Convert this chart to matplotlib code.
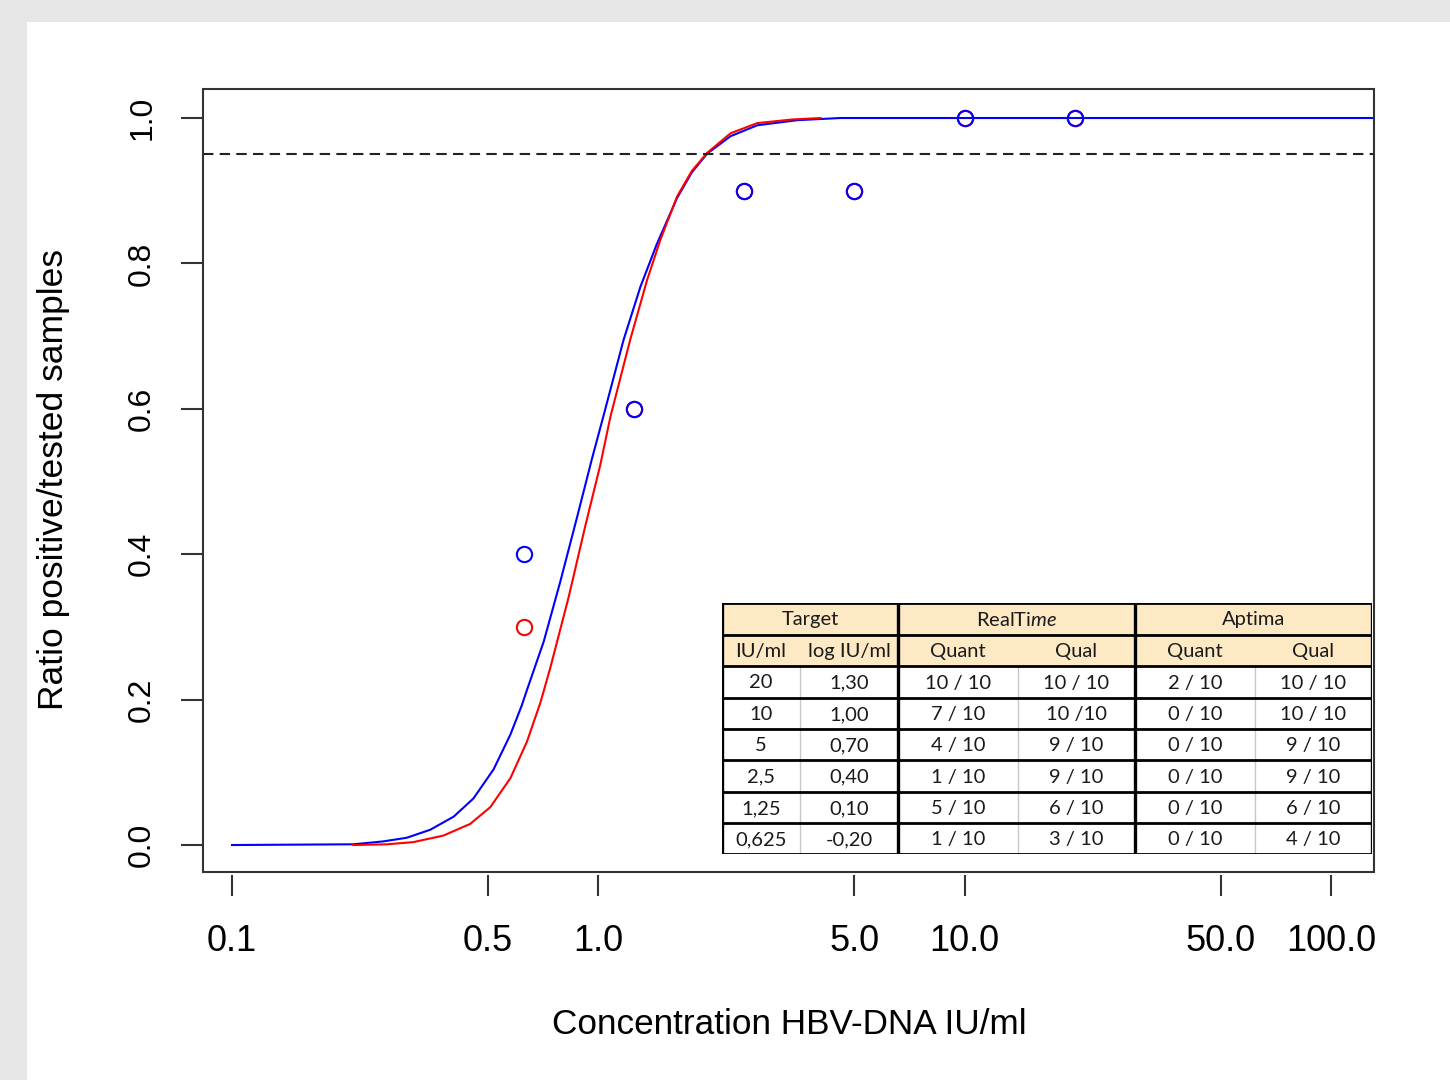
import numpy as np
import matplotlib.pyplot as plt
from matplotlib.patches import Rectangle
from matplotlib.ticker import NullLocator

plt.rcParams['font.family'] = ['Liberation Sans', 'DejaVu Sans']
plt.rcParams['mathtext.fontset'] = 'custom'
plt.rcParams['mathtext.rm'] = 'Lato'
plt.rcParams['mathtext.it'] = 'Lato:italic'

# observed ratios positive/tested (qualitative assays)
conc = [0.625, 1.25, 2.5, 5, 10, 20]
realtime_qual = [0.3, 0.6, 0.9, 0.9, 1.0, 1.0]
aptima_qual = [0.4, 0.6, 0.9, 0.9, 1.0, 1.0]

# fitted curves as (log10 IU/ml, ratio)
blue_logx = [-1.0, -0.669, -0.587, -0.523, -0.459, -0.395, -0.341, -0.286,
             -0.240, -0.209, -0.195, -0.149, -0.104, -0.058, -0.017, 0.015,
             0.069, 0.115, 0.160, 0.215, 0.255, 0.297, 0.361, 0.434, 0.543,
             0.661, 2.2]
blue_y = [0.0, 0.001, 0.005, 0.010, 0.021, 0.039, 0.064, 0.104,
          0.152, 0.192, 0.213, 0.280, 0.362, 0.451, 0.532, 0.592,
          0.695, 0.768, 0.827, 0.890, 0.925, 0.951, 0.975, 0.990, 0.997,
          1.0, 1.0]
red_logx = [-0.669, -0.577, -0.505, -0.423, -0.350, -0.295, -0.240, -0.195,
            -0.158, -0.131, -0.081, -0.036, 0.005, 0.033, 0.087, 0.133,
            0.169, 0.215, 0.255, 0.297, 0.361, 0.434, 0.530, 0.607]
red_y = [0.0, 0.001, 0.004, 0.013, 0.029, 0.052, 0.092, 0.142,
         0.196, 0.244, 0.341, 0.438, 0.522, 0.589, 0.695, 0.777,
         0.832, 0.892, 0.927, 0.952, 0.979, 0.993, 0.998, 1.0]

cutoff = 0.95

xticks = [0.1, 0.5, 1, 5, 10, 50, 100]
xtick_labels = ['0.1', '0.5', '1.0', '5.0', '10.0', '50.0', '100.0']
yticks = [0.0, 0.2, 0.4, 0.6, 0.8, 1.0]
ytick_labels = ['0.0', '0.2', '0.4', '0.6', '0.8', '1.0']

# inset table
group_header = ['Target', r'RealTi$\mathit{me}$', 'Aptima']
sub_header = ['IU/ml', 'log IU/ml', 'Quant', 'Qual', 'Quant', 'Qual']
col_iu = ['20', '10', '5', '2,5', '1,25', '0,625']
col_log = ['1,30', '1,00', '0,70', '0,40', '0,10', '-0,20']
col_rt_quant = ['10 / 10', '7 / 10', '4 / 10', '1 / 10', '5 / 10', '1 / 10']
col_rt_qual = ['10 / 10', '10 /10', '9 / 10', '9 / 10', '6 / 10', '3 / 10']
col_ap_quant = ['2 / 10', '0 / 10', '0 / 10', '0 / 10', '0 / 10', '0 / 10']
col_ap_qual = ['10 / 10', '10 / 10', '9 / 10', '9 / 10', '6 / 10', '4 / 10']

W, H = 1450, 1080
fig = plt.figure(figsize=(W / 100, H / 100), dpi=100)
fig.patch.set_facecolor('#e6e6e6')
fig.add_artist(Rectangle((27 / W, 0), 1, 1 - 22 / H, transform=fig.transFigure,
                         facecolor='white', edgecolor='none', zorder=0))

ax = fig.add_axes([203 / W, 1 - 872 / H, (1374 - 203) / W, (872 - 89) / H])
ax.set_xscale('log')
ax.set_xlim(10 ** -1.0792, 10 ** 2.1175)
ax.set_ylim(-0.0371, 1.0399)

ax.plot(np.power(10.0, blue_logx), blue_y, color='blue', lw=1.5)
ax.plot(np.power(10.0, red_logx), red_y, color='red', lw=1.5)
ax.axhline(cutoff, color='#222222', lw=1.5, dashes=(5, 3))
ax.plot(conc, realtime_qual, 'o', mfc='none', mec='red', ms=11, mew=1.5)
ax.plot(conc, aptima_qual, 'o', mfc='none', mec='blue', ms=11, mew=1.5)

# box around the plot, ticks hang off a slightly offset axis like R does
for s in ax.spines.values():
    s.set_visible(False)
ax.spines['bottom'].set_position(('outward', 2.5))
ax.add_patch(Rectangle((0, 0), 1, 1, transform=ax.transAxes, fill=False,
                       edgecolor='#333333', lw=1.5, clip_on=False, zorder=5))

ax.xaxis.set_minor_locator(NullLocator())
ax.set_xticks(xticks, xtick_labels)
ax.set_yticks(yticks, ytick_labels)
ax.tick_params(axis='x', length=15, width=1.5, color='#333333', pad=20, labelsize=26)
ax.tick_params(axis='y', length=16, width=1.5, color='#333333', pad=17, labelsize=23,
               labelrotation=90)
for lab in ax.get_yticklabels():
    lab.set_va('center')

fig.text(789 / W, 1 - 1025 / H, 'Concentration HBV-DNA IU/ml', fontsize=25.3,
         ha='center', va='center')
fig.text(54 / W, 1 - 480 / H, 'Ratio positive/tested samples', fontsize=25.5,
         ha='center', va='center', rotation=90)

# table drawn in its own pixel-like coordinate space
tab = fig.add_axes([722 / W, 1 - 854 / H, 650 / W, 251 / H])
tab.set_zorder(10)
tab.set_xlim(0, 650)
tab.set_ylim(251, 0)
tab.axis('off')
cx = [0, 78, 176, 296, 413, 533, 650]
ry = [0, 32, 63, 95, 126, 157, 189, 220, 251]

tab.add_patch(Rectangle((0, 0), 650, 251, facecolor='white', edgecolor='none'))
tab.add_patch(Rectangle((0, 0), 650, ry[2], facecolor='#fde9c4', edgecolor='none'))
for x in (cx[1], cx[3], cx[5]):
    tab.plot([x, x], [ry[2], ry[-1]], color='#c8c8c8', lw=1)
for y in ry:
    tab.plot([0, 650], [y, y], color='black', lw=2, solid_capstyle='projecting')
for x in (cx[0], cx[2], cx[4], cx[6]):
    tab.plot([x, x], [0, 251], color='black', lw=2.4, solid_capstyle='projecting')

txt = dict(ha='center', va='center', color='#1a1a1a', family='Lato')
for i, g in enumerate(group_header):
    tab.text((cx[2 * i] + cx[2 * i + 2]) / 2, (ry[0] + ry[1]) / 2 + 1, g,
             fontsize=14.5, **txt)
for j, h in enumerate(sub_header):
    tab.text((cx[j] + cx[j + 1]) / 2, (ry[1] + ry[2]) / 2 + 1, h, fontsize=14.5, **txt)
columns = [col_iu, col_log, col_rt_quant, col_rt_qual, col_ap_quant, col_ap_qual]
for j, col in enumerate(columns):
    for i, v in enumerate(col):
        tab.text((cx[j] + cx[j + 1]) / 2, (ry[i + 2] + ry[i + 3]) / 2 + 1, v,
                 fontsize=14.5, **txt)

fig.savefig('out.png', dpi=100)
